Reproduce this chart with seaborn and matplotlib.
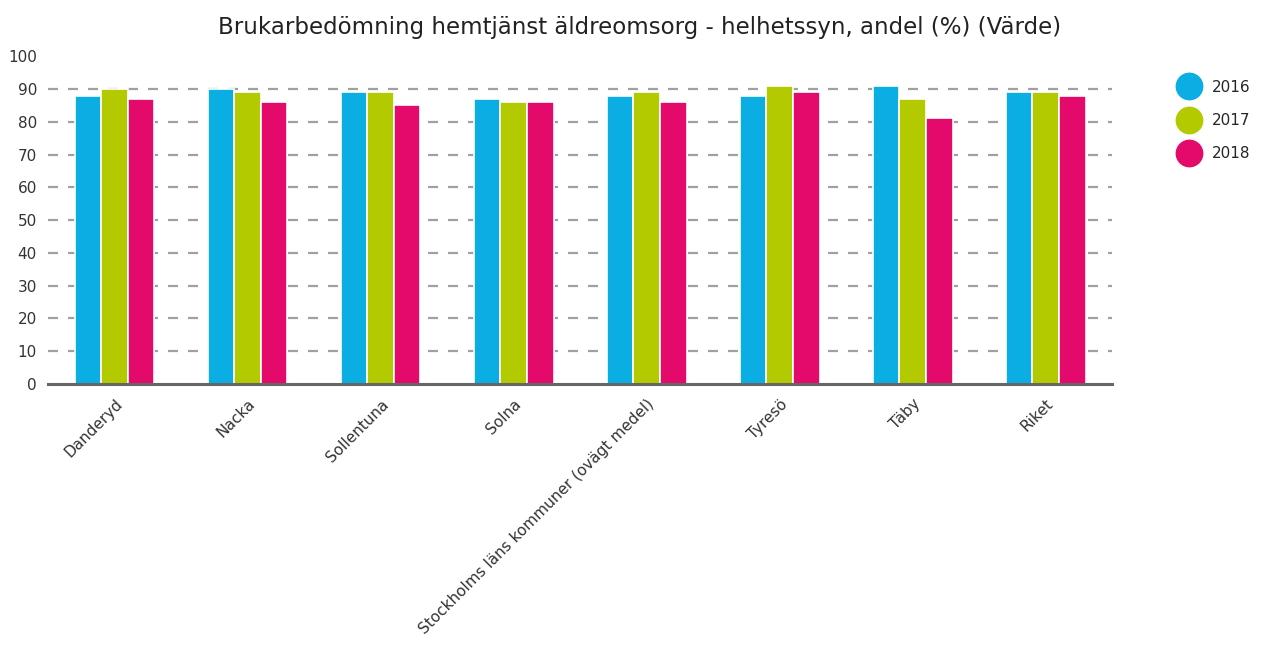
import numpy as np
import pandas as pd
import matplotlib
matplotlib.use('Agg')
import matplotlib.pyplot as plt
from matplotlib.lines import Line2D
import seaborn as sns

kommuner = ['Danderyd', 'Nacka', 'Sollentuna', 'Solna',
            'Stockholms läns kommuner (ovägt medel)', 'Tyresö', 'Täby', 'Riket']
ar = ['2016', '2017', '2018']
v2016 = [88, 90, 89, 87, 88, 88, 91, 89]
v2017 = [90, 89, 89, 86, 89, 91, 87, 89]
v2018 = [87, 86, 85, 86, 86, 89, 81, 88]
farger = ['#0AAEE2', '#B4CA00', '#E40A6C']
yticks = [0, 10, 20, 30, 40, 50, 60, 70, 80, 90, 100]

rows = []
for year, vals in zip(ar, [v2016, v2017, v2018]):
    for k, v in zip(kommuner, vals):
        rows.append({'Kommun': k, 'År': year, 'Värde': v})
df = pd.DataFrame(rows)

sns.set_style('white')
plt.rcParams['font.family'] = ['DejaVu Sans']

fig = plt.figure(figsize=(12.74, 6.46), dpi=100)
ax = fig.add_axes([0.0377, 0.4056, 0.8353, 0.5074])

# dashed grid lines behind bars
for y in yticks[1:-1]:
    ax.axhline(y, color='#a0a0a0', linestyle=(0, (4.5, 4.5)), linewidth=1.6, zorder=0)

sns.barplot(data=df, x='Kommun', y='Värde', hue='År', palette=farger,
            saturation=1, width=0.6, edgecolor='white', linewidth=1.2, ax=ax,
            legend=False, zorder=2)

ax.set_ylim(0, 100)
ax.set_xlim(-0.5, len(kommuner) - 0.5)
ax.set_yticks(yticks)
ax.set_yticklabels([str(t) for t in yticks], fontsize=11, color='#333333')
ax.tick_params(axis='y', length=0, pad=8)
ax.tick_params(axis='x', length=5, width=1.5, color='#666666', direction='out', pad=4)
ax.set_xticks(range(len(kommuner)))
ax.set_xticklabels(kommuner, rotation=45, ha='right', rotation_mode='anchor',
                   fontsize=11, color='#333333')
ax.set_xlabel('')
ax.set_ylabel('')
for s in ['top', 'right', 'left']:
    ax.spines[s].set_visible(False)
ax.spines['bottom'].set_color('#666666')
ax.spines['bottom'].set_linewidth(2.2)

fig.text(0.502, 0.957, 'Brukarbedömning hemtjänst äldreomsorg - helhetssyn, andel (%) (Värde)',
         ha='center', va='center', fontsize=16.5, color='#222222')

handles = [Line2D([0], [0], marker='o', color='none', markerfacecolor=c,
                  markeredgecolor=c, markersize=19) for c in farger]
fig.legend(handles, ar, loc='upper left', bbox_to_anchor=(0.915, 0.898),
           frameon=False, fontsize=11, labelspacing=1.2, handletextpad=0.9,
           handlelength=1.2)

fig.savefig('out.png', dpi=100)
